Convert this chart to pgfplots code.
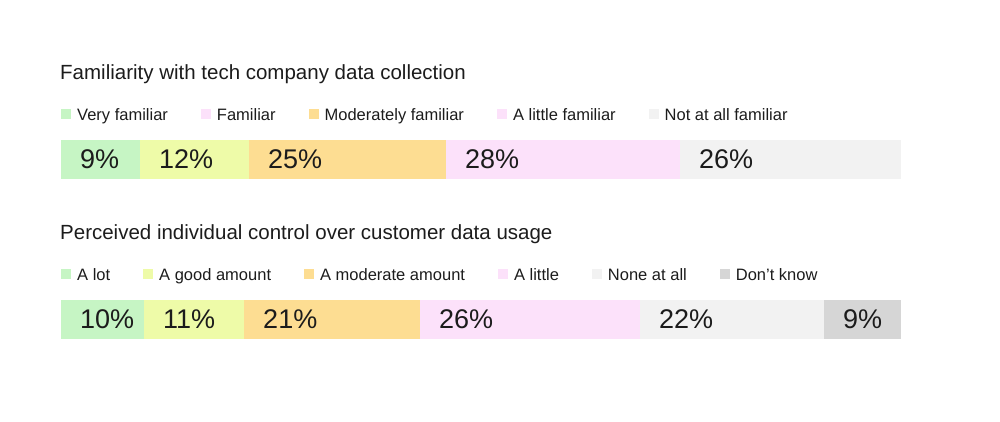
\documentclass[border=0pt]{standalone}
\usepackage{fontspec}
\setmainfont{Liberation Sans}
\usepackage{pgfplots}
\pgfplotsset{compat=1.18}

\definecolor{cGreen}{HTML}{C6F5C4}
\definecolor{cYellow}{HTML}{EEFBA8}
\definecolor{cOrange}{HTML}{FDDD92}
\definecolor{cPink}{HTML}{FCE1FA}
\definecolor{cLight}{HTML}{F2F2F2}
\definecolor{cDark}{HTML}{D6D6D6}
\definecolor{cText}{HTML}{1C1C1C}

\newcommand{\titlefont}{\fontsize{20.5}{24}\selectfont}
\newcommand{\legfont}{\fontsize{16.5}{20}\selectfont}
\newcommand{\pctfont}{\fontsize{27}{32}\selectfont}

\pgfplotsset{
  segbar/.style={
    scale only axis, width=840pt, height=39pt,
    xmin=0, xmax=100, ymin=0, ymax=1,
    hide axis, clip=false, anchor=south west,
    legend columns=-1,
    legend style={at={(0,1)}, anchor=south west, yshift=18pt,
      draw=none, fill=none, inner sep=0pt,
      font=\legfont\color{cText},
      nodes={inner sep=0pt},
      /tikz/every odd column/.append style={column sep=6pt},
      /tikz/every even column/.append style={column sep=33pt}},
    legend image code/.code={\fill[##1] (0pt,-4pt) rectangle (10pt,6pt);},
  },
  pct/.style={forget plot, draw=none, mark=none,
    nodes near coords, point meta=explicit symbolic,
    nodes near coords style={anchor=west, xshift=19pt, inner sep=0pt,
      font=\pctfont, text=cText}},
}

\begin{document}
\begin{tikzpicture}
\path[use as bounding box] (0pt,0pt) rectangle (1000pt,422pt);

\node[anchor=base west, inner sep=0pt, font=\titlefont, text=cText]
  at (60pt,342pt) {Familiarity with tech company data collection};
\node[anchor=base west, inner sep=0pt, font=\titlefont, text=cText]
  at (60pt,182pt) {Perceived individual control over customer data usage};

% chart 1
\begin{axis}[segbar, at={(61pt,243pt)}]
\addplot[fill=cGreen, draw=none] coordinates {(0,0) (9.40,0) (9.40,1) (0,1)} --cycle;
\addlegendentry{Very familiar}
\addplot[fill=cYellow, draw=none, forget plot] coordinates {(9.40,0) (22.38,0) (22.38,1) (9.40,1)} --cycle;
\addlegendimage{fill=cPink, draw=none}
\addlegendentry{Familiar}
\addplot[fill=cOrange, draw=none] coordinates {(22.38,0) (45.83,0) (45.83,1) (22.38,1)} --cycle;
\addlegendentry{Moderately familiar}
\addplot[fill=cPink, draw=none] coordinates {(45.83,0) (73.69,0) (73.69,1) (45.83,1)} --cycle;
\addlegendentry{A little familiar}
\addplot[fill=cLight, draw=none] coordinates {(73.69,0) (100,0) (100,1) (73.69,1)} --cycle;
\addlegendentry{Not at all familiar}
\addplot[pct] coordinates {(0,0.5)[9\%] (9.40,0.5)[12\%] (22.38,0.5)[25\%] (45.83,0.5)[28\%] (73.69,0.5)[26\%]};
\end{axis}

% chart 2
\begin{axis}[segbar, at={(61pt,83pt)}]
\addplot[fill=cGreen, draw=none] coordinates {(0,0) (9.88,0) (9.88,1) (0,1)} --cycle;
\addlegendentry{A lot}
\addplot[fill=cYellow, draw=none] coordinates {(9.88,0) (21.79,0) (21.79,1) (9.88,1)} --cycle;
\addlegendentry{A good amount}
\addplot[fill=cOrange, draw=none] coordinates {(21.79,0) (42.74,0) (42.74,1) (21.79,1)} --cycle;
\addlegendentry{A moderate amount}
\addplot[fill=cPink, draw=none] coordinates {(42.74,0) (68.93,0) (68.93,1) (42.74,1)} --cycle;
\addlegendentry{A little}
\addplot[fill=cLight, draw=none] coordinates {(68.93,0) (90.83,0) (90.83,1) (68.93,1)} --cycle;
\addlegendentry{None at all}
\addplot[fill=cDark, draw=none] coordinates {(90.83,0) (100,0) (100,1) (90.83,1)} --cycle;
\addlegendentry{Don't know}
\addplot[pct] coordinates {(0,0.5)[10\%] (9.88,0.5)[11\%] (21.79,0.5)[21\%] (42.74,0.5)[26\%] (68.93,0.5)[22\%] (90.83,0.5)[9\%]};
\end{axis}
\end{tikzpicture}
\end{document}
